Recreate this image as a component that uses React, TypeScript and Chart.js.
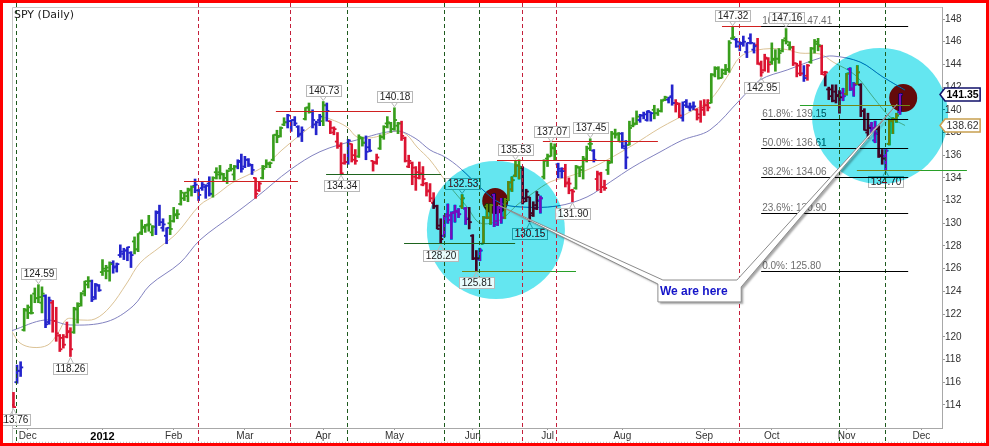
import React, { useEffect, useRef } from 'react';
import { Chart, registerables } from 'chart.js';

Chart.register(...registerables);
Chart.defaults.font.family = '"Liberation Sans", Arial, sans-serif';

// month ticks (trading-day index of first bar of each month)
const monthTicks = [4, 25, 45, 65, 87, 107, 129, 150, 171, 194, 213, 234, 255];
const monthLabels = ['Dec', '2012', 'Feb', 'Mar', 'Apr', 'May', 'Jun', 'Jul', 'Aug', 'Sep', 'Oct', 'Nov', 'Dec'];
const priceTicks = [114, 116, 118, 120, 122, 124, 126, 128, 130, 132, 134, 136, 138, 140, 142, 144, 146, 148];

// daily bars, 25 Nov 2011 .. 23 Nov 2012
const opens = [
  114.0, 116.0, 117.0, 120.6, 122.3, 122.6, 123.8, 123.4, 123.0, 123.6,
  121.3, 123.0, 121.4, 120.1, 119.9, 120.0, 120.5, 120.4, 122.4, 122.9,
  124.0, 124.6, 124.9, 123.5, 124.5, 125.7, 125.8, 125.8, 126.5, 126.2,
  127.2, 127.3, 127.6, 127.4, 128.4, 127.7, 129.2, 129.6, 129.9, 129.2,
  129.7, 131.0, 129.6, 128.9, 130.0, 130.2, 130.8, 131.7, 132.2, 132.4,
  133.0, 133.3, 132.9, 133.1, 133.2, 133.5, 132.6, 134.5, 134.5, 134.3,
  134.0, 134.8, 134.3, 135.0, 135.5, 135.0, 135.6, 135.1, 134.0, 132.9,
  134.0, 135.0, 135.2, 135.6, 137.8, 137.7, 138.7, 138.9, 139.0, 139.1,
  138.5, 137.9, 139.2, 140.2, 139.8, 138.7, 139.1, 139.0, 140.4, 139.0,
  138.0, 137.2, 136.8, 135.3, 135.4, 137.0, 136.0, 135.9, 137.5, 137.1,
  136.7, 135.5, 135.4, 136.6, 137.6, 138.8, 138.8, 138.3, 138.6, 138.8,
  137.5, 135.0, 135.3, 134.1, 134.5, 133.4, 133.5, 132.9, 131.8, 131.5,
  129.8, 128.9, 130.8, 130.3, 131.0, 131.0, 131.5, 131.3, 130.4, 128.9,
  126.9, 126.9, 128.2, 131.5, 130.5, 132.5, 130.2, 131.3, 130.5, 132.1,
  133.0, 134.2, 135.1, 134.9, 132.2, 132.3, 130.9, 131.6, 132.0, 134.1,
  135.7, 135.9, 136.6, 135.2, 134.6, 134.8, 133.6, 132.9, 133.1, 134.9,
  135.0, 135.6, 137.0, 136.4, 133.9, 134.3, 133.2, 134.7, 135.4, 137.9,
  137.9, 137.9, 136.6, 136.9, 138.6, 138.8, 139.1, 139.5, 139.1, 139.8,
  140.0, 139.7, 139.9, 140.9, 140.9, 141.2, 140.6, 140.5, 139.3, 140.7,
  140.2, 140.3, 140.0, 139.6, 140.2, 140.4, 140.6, 143.1, 143.6, 142.8,
  143.5, 143.6, 146.3, 146.2, 145.6, 145.9, 145.1, 146.3, 145.3, 145.7,
  144.0, 143.5, 144.5, 144.2, 144.5, 144.5, 145.2, 146.3, 145.7, 145.5,
  144.1, 143.9, 143.2, 143.0, 144.2, 145.4, 145.8, 145.6, 143.1, 141.8,
  141.8, 141.6, 141.3, 141.5, 141.4, 143.6, 141.8, 142.3, 142.2, 139.9,
  138.0, 138.6, 137.3, 138.3, 135.9, 135.9, 137.0, 139.0, 139.2, 139.8,
];
const highs = [
  115.1, 117.5, 117.8, 122.5, 122.8, 123.7, 124.3, 124.59, 124.4, 123.7,
  123.5, 123.2, 122.6, 120.2, 120.2, 121.3, 120.8, 122.6, 123.0, 123.9,
  124.9, 125.3, 125.0, 124.7, 124.6, 126.8, 126.3, 126.6, 126.7, 126.5,
  128.1, 127.8, 127.9, 127.5, 128.8, 129.1, 130.3, 129.9, 130.7, 129.8,
  131.1, 131.6, 130.4, 129.6, 130.7, 131.4, 131.2, 132.9, 132.7, 133.1,
  133.3, 133.9, 133.0, 133.6, 133.4, 134.1, 134.1, 134.9, 135.1, 134.4,
  134.7, 135.2, 135.1, 135.6, 136.1, 135.9, 135.7, 135.2, 134.0, 133.7,
  135.1, 135.6, 135.4, 137.8, 138.2, 138.5, 139.3, 139.6, 139.1, 139.4,
  138.6, 138.5, 140.2, 140.6, 140.0, 139.0, 139.6, 140.73, 140.6, 139.0,
  138.5, 138.0, 137.1, 136.1, 137.4, 137.0, 136.5, 137.8, 137.6, 137.7,
  137.4, 135.5, 136.1, 137.8, 138.6, 139.4, 138.9, 140.18, 138.9, 139.0,
  137.6, 136.0, 135.4, 135.0, 135.4, 135.0, 133.6, 133.5, 132.7, 131.6,
  130.4, 130.7, 131.7, 131.0, 131.6, 131.3, 132.53, 131.4, 131.4, 129.0,
  127.6, 127.8, 130.6, 131.7, 131.7, 132.6, 131.5, 132.2, 132.2, 133.7,
  134.1, 135.53, 135.6, 135.0, 133.0, 132.3, 131.9, 132.8, 132.4, 135.6,
  136.1, 137.07, 137.0, 135.3, 134.9, 135.2, 134.0, 133.0, 135.1, 135.0,
  135.9, 136.8, 137.45, 136.5, 134.6, 134.5, 133.8, 135.5, 138.1, 138.3,
  138.0, 138.0, 137.3, 139.0, 139.3, 139.9, 139.6, 139.8, 139.9, 139.8,
  140.4, 140.1, 140.9, 141.2, 141.1, 142.2, 140.9, 140.6, 140.7, 140.9,
  140.6, 140.7, 140.1, 140.8, 140.9, 140.9, 143.2, 143.8, 143.8, 143.6,
  144.0, 146.1, 147.32, 146.3, 146.0, 146.5, 145.9, 146.7, 145.9, 146.3,
  144.3, 144.9, 144.6, 145.9, 145.3, 145.4, 146.2, 147.16, 146.0, 145.6,
  144.1, 144.3, 143.9, 144.0, 145.5, 146.2, 146.3, 145.7, 143.4, 142.0,
  142.2, 142.2, 141.7, 141.9, 143.2, 143.7, 142.4, 143.9, 142.3, 140.1,
  139.7, 138.9, 139.0, 138.6, 136.5, 136.5, 139.2, 139.3, 139.7, 141.4,
];
const lows = [
  113.76, 115.9, 116.5, 120.5, 121.6, 122.0, 123.0, 123.0, 122.1, 120.8,
  121.1, 120.4, 119.6, 118.7, 119.0, 119.9, 118.26, 120.3, 121.2, 122.7,
  123.6, 124.3, 123.1, 123.3, 124.0, 125.4, 125.1, 124.9, 125.6, 125.7,
  127.0, 126.8, 126.7, 126.1, 127.3, 127.5, 129.0, 129.2, 129.3, 128.9,
  129.0, 129.8, 129.3, 128.2, 129.0, 130.1, 130.4, 131.6, 132.0, 131.9,
  132.4, 132.7, 132.0, 132.9, 132.2, 132.4, 132.3, 133.9, 133.9, 133.7,
  133.5, 134.6, 133.8, 134.8, 134.5, 134.9, 135.0, 134.3, 132.2, 132.8,
  133.9, 134.9, 134.9, 135.5, 137.1, 137.6, 138.6, 138.4, 138.1, 138.6,
  137.6, 137.2, 139.1, 139.7, 138.4, 137.8, 138.6, 138.6, 139.0, 137.9,
  137.8, 136.6, 134.34, 135.2, 135.2, 135.4, 135.2, 135.8, 136.8, 135.6,
  136.3, 134.6, 135.2, 136.5, 137.4, 138.4, 138.0, 138.2, 137.9, 137.3,
  135.4, 134.9, 133.4, 132.9, 133.9, 133.3, 132.4, 131.9, 131.3, 129.5,
  128.2, 128.8, 130.0, 128.6, 130.1, 130.5, 131.3, 129.9, 129.5, 126.8,
  125.81, 126.7, 128.2, 130.4, 129.9, 129.7, 129.8, 130.0, 130.4, 132.0,
  132.8, 134.1, 133.9, 131.7, 131.9, 130.15, 130.6, 131.2, 130.9, 133.9,
  135.0, 135.9, 135.6, 134.0, 134.0, 133.2, 132.6, 131.9, 133.0, 134.1,
  133.9, 135.4, 136.4, 135.4, 132.9, 132.7, 132.9, 134.3, 135.3, 137.5,
  137.2, 136.6, 134.8, 136.9, 138.5, 138.7, 138.9, 139.2, 139.0, 139.0,
  139.2, 139.5, 139.8, 140.8, 140.6, 140.4, 139.8, 139.3, 139.0, 140.2,
  139.9, 140.0, 139.1, 138.9, 139.5, 139.9, 140.6, 142.9, 142.7, 142.8,
  143.1, 143.3, 146.2, 145.5, 145.2, 145.6, 144.6, 145.8, 145.0, 144.0,
  142.95, 143.4, 143.3, 144.0, 143.4, 144.1, 145.1, 145.8, 145.3, 143.9,
  142.9, 143.0, 142.5, 142.6, 144.1, 145.0, 145.2, 143.1, 142.1, 140.9,
  140.7, 140.6, 139.7, 140.8, 141.3, 141.7, 141.2, 142.2, 139.4, 138.2,
  137.5, 138.0, 137.1, 135.8, 135.2, 134.7, 136.9, 137.9, 138.9, 139.6,
];
const closes = [
  113.8, 117.0, 117.3, 122.4, 122.1, 122.1, 123.4, 123.5, 123.8, 121.1,
  123.2, 121.4, 120.3, 118.9, 119.3, 120.4, 118.9, 122.5, 122.7, 123.8,
  124.9, 124.9, 123.3, 124.6, 124.1, 126.0, 126.1, 126.4, 126.1, 126.4,
  127.5, 127.6, 127.9, 127.2, 127.7, 129.1, 129.7, 129.8, 129.9, 129.7,
  130.9, 130.1, 129.9, 129.6, 129.5, 130.7, 130.8, 132.7, 132.7, 132.9,
  133.2, 133.4, 132.5, 133.4, 133.3, 132.6, 134.0, 134.3, 134.4, 134.0,
  134.6, 134.8, 135.0, 135.4, 134.8, 135.6, 135.2, 134.7, 132.6, 133.5,
  134.8, 135.3, 135.3, 137.8, 137.6, 138.4, 138.9, 139.5, 139.1, 138.8,
  137.8, 138.2, 140.2, 139.8, 139.1, 138.9, 139.4, 140.4, 139.9, 138.4,
  138.3, 136.8, 134.4, 135.4, 137.3, 135.6, 135.5, 137.6, 137.1, 136.3,
  136.4, 135.3, 135.8, 137.6, 138.5, 138.9, 138.3, 139.1, 138.8, 137.7,
  135.5, 135.5, 134.9, 134.0, 134.4, 133.9, 132.8, 132.2, 131.5, 129.5,
  128.6, 130.6, 130.7, 130.9, 131.1, 130.8, 132.2, 130.4, 130.1, 126.9,
  126.9, 127.6, 130.5, 130.5, 131.6, 129.9, 131.4, 130.5, 131.9, 133.6,
  133.8, 135.1, 134.9, 131.9, 132.8, 130.7, 131.3, 132.5, 132.2, 135.5,
  135.9, 136.7, 136.1, 134.8, 134.6, 133.5, 133.5, 132.8, 135.0, 134.7,
  135.7, 136.6, 137.0, 135.6, 134.4, 133.2, 133.1, 135.3, 137.9, 137.8,
  137.2, 136.8, 135.8, 138.4, 138.7, 139.4, 139.5, 139.6, 139.9, 139.7,
  139.7, 139.9, 140.8, 141.1, 141.1, 140.6, 140.6, 139.5, 140.4, 140.3,
  140.2, 140.3, 139.3, 140.0, 140.4, 140.2, 143.1, 143.7, 142.8, 143.2,
  143.5, 145.9, 146.4, 146.0, 145.8, 146.0, 145.9, 145.9, 145.6, 144.1,
  143.3, 144.6, 144.0, 144.4, 144.5, 145.0, 146.1, 146.0, 145.5, 144.1,
  143.2, 143.2, 142.8, 143.9, 145.4, 146.0, 145.7, 143.3, 143.3, 141.2,
  140.8, 141.2, 141.1, 141.2, 143.2, 141.9, 142.2, 143.3, 139.9, 138.2,
  138.4, 138.4, 137.9, 136.0, 135.7, 136.4, 139.1, 139.2, 139.5, 141.35,
];
// impulse colour of each bar: g = green, b = blue, r = red
const impulse =
  'rbbggggggb' + 'brrrrrrggg' + 'ggbbbgggbb' + 'bbbbgggggg' + 'bbbbgggggg' +
  'gbbbbbgggg' + 'gggbbbbbrr' + 'gggggggbbb' + 'bbggbbbgbr' + 'rrrrbrrggb' +
  'brrggggggr' + 'rrrrrrrrrr' + 'rbbbbbgbrr' + 'rbgggbbbgg' + 'gggrrrrrbg' +
  'gggbbrrrgg' + 'gggbrrrggg' + 'gbbgggbbbb' + 'ggggbbrrbb' + 'bbrrrrgggg' +
  'gggbbbbbbr' + 'rrrggggggr' + 'rrbrgggrrr' + 'rrrbgbbgrr' + 'rbbrrbgggb';

// moving averages: [bar index, price]
const fastAverage = [
  [-0.42, 120.45], [1.83, 119.45], [5.48, 119.06], [9.69, 119.28], [12.5, 120.33],
  [15.03, 121.57], [18.68, 121.48], [22.89, 121.57], [27.11, 122.63], [31.88, 124.74],
  [35.53, 126.5], [41.15, 127.91], [45.93, 129.15], [52.39, 131.61], [56.88, 132.5],
  [61.38, 133.55], [66.99, 134.43], [70.93, 135.14], [75.42, 136.46], [83.29, 138.48],
  [86.94, 139.28], [88.9, 139.19], [93.68, 138.48], [96.49, 137.6], [100.14, 137.52],
  [103.79, 137.78], [107.72, 138.13], [110.53, 137.78], [113.34, 136.72], [116.99, 135.58],
  [121.77, 133.55], [127.39, 131.44], [131.04, 130.03], [136.66, 130.29], [141.43, 131.61],
  [145.93, 132.67], [150.7, 133.64], [155.48, 134.08], [161.1, 134.7], [166.71, 135.58],
  [174.02, 136.9], [181.6, 138.4], [189.97, 139.81], [195.6, 140.86], [200.4, 142.89],
  [204.07, 144.65], [208.85, 145.27], [216.15, 145.36], [220.93, 145.0], [226.54, 144.92],
  [230.2, 144.21], [236.38, 143.07], [241.43, 141.13], [246.21, 139.37], [250.42, 138.62],
];
const slowAverage = [
  [-0.42, 120.54], [8.85, 121.48], [15.87, 121.04], [26.26, 121.33], [33.57, 122.7],
  [38.34, 124.56], [46.77, 126.5], [52.39, 128.53], [61.66, 130.73], [68.4, 132.34],
  [77.67, 134.7], [86.1, 136.31], [96.4, 137.34], [107.6, 138.13], [112.8, 137.5],
  [117.0, 136.46], [121.2, 135.84], [125.4, 134.87], [131.9, 132.93], [136.7, 131.79],
  [142.3, 131.44], [152.7, 131.52], [161.1, 132.32], [167.6, 133.64], [174.0, 134.96],
  [181.6, 136.28], [188.0, 137.34], [195.6, 138.22], [204.0, 140.86], [209.7, 142.63],
  [217.3, 143.51], [226.5, 144.56], [230.2, 144.74], [237.8, 144.21], [244.2, 142.89],
  [250.4, 141.74],
];

// Fibonacci retracement of the Jun low .. Sep high
const fibPercents = [100, 61.8, 50, 38.2, 23.6, 0];
const fibPrices = [147.41, 139.15, 136.61, 134.06, 130.9, 125.8];

// cycle lines (bar index)
const redCycles = [51.8, 77.8, 142.7, 152.5, 203.8];
const greenCycles = [0.7, 93.7, 120.9, 130.8, 231.9, 244.8];

// support / resistance segments
const levels = [
  { from: 47.9, to: 79.9, price: 133.73, colour: '#d02020', under: false },
  { from: 73.7, to: 106.0, price: 139.9, colour: '#d02020', under: false },
  { from: 87.8, to: 120.1, price: 134.32, colour: '#1e641e', under: false },
  { from: 109.7, to: 140.9, price: 128.22, colour: '#1e641e', under: false },
  { from: 126.0, to: 158.0, price: 125.79, colour: '#28a028', under: true },
  { from: 135.8, to: 167.6, price: 135.6, colour: '#d02020', under: false },
  { from: 148.7, to: 181.0, price: 137.25, colour: '#d02020', under: false },
  { from: 199.0, to: 220.9, price: 147.38, colour: '#d02020', under: false },
  { from: 220.9, to: 251.8, price: 140.4, colour: '#28a028', under: true },
  { from: 236.9, to: 267.8, price: 134.67, colour: '#28a028', under: true },
];

// swing highs / lows that carry a price label
const swingLabels = [
  { bar: 0, side: 'low', under: false }, { bar: 7, side: 'high', under: false },
  { bar: 16, side: 'low', under: false }, { bar: 87, side: 'high', under: false },
  { bar: 92, side: 'low', under: false }, { bar: 107, side: 'high', under: false },
  { bar: 126, side: 'high', under: true }, { bar: 120, side: 'low', under: false },
  { bar: 130, side: 'low', under: false }, { bar: 141, side: 'high', under: false },
  { bar: 145, side: 'low', under: true }, { bar: 151, side: 'high', under: false },
  { bar: 162, side: 'high', under: false }, { bar: 157, side: 'low', under: false },
  { bar: 202, side: 'high', under: false }, { bar: 217, side: 'high', under: false },
  { bar: 210, side: 'low', under: false }, { bar: 245, side: 'low', under: true },
];

const zones = [{ bar: 135.5, price: 129.41, r: 69 }, { bar: 243.4, price: 139.45, r: 68 }];
const dots = [{ bar: 135.3, price: 131.96, r: 13 }, { bar: 249.9, price: 141.04, r: 14 }];
const callout = {
  text: 'We are here',
  tipA: [136.1, 131.61], tipB: [248.2, 140.51],
  left: 181.0, right: 204.4, top: 125.0, bottom: 123.07,
  joinA: [182.4, 124.65], joinB: [203.2, 124.39],
};

const palette: any = { g: '#389e1c', b: '#2424cc', r: '#dc1432' };
const barColours = impulse.split('').map((c) => palette[c]);

function drawLabel(ctx: any, text: string, cx: number, py: number, above: boolean) {
  ctx.font = '10px "Liberation Sans", Arial, sans-serif';
  const w = Math.round(ctx.measureText(text).width + 4);
  const h = 11;
  const top = Math.round(above ? py - 6 - h : py + 6);
  const left = Math.round(cx - w / 2);
  ctx.fillStyle = 'rgba(255,255,255,0.85)';
  ctx.fillRect(left, top, w, h);
  ctx.strokeStyle = '#b8b8b8';
  ctx.lineWidth = 1;
  ctx.strokeRect(left + 0.5, top + 0.5, w, h);
  const edge = above ? top + h + 0.5 : top + 0.5;
  ctx.beginPath();
  ctx.moveTo(cx - 3, edge);
  ctx.lineTo(cx, above ? py - 1 : py + 1);
  ctx.lineTo(cx + 3, edge);
  ctx.stroke();
  ctx.fillStyle = '#222';
  ctx.textAlign = 'center';
  ctx.textBaseline = 'middle';
  ctx.fillText(text, left + w / 2 + 0.5, top + h / 2 + 1);
}

function hline(ctx: any, x1: number, x2: number, y: number, colour: string) {
  ctx.beginPath();
  ctx.moveTo(x1, Math.round(y) + 0.5);
  ctx.lineTo(x2, Math.round(y) + 0.5);
  ctx.strokeStyle = colour;
  ctx.lineWidth = 1;
  ctx.stroke();
}

const overlay = {
  id: 'overlay',
  beforeDraw(chart: any) {
    const { ctx, width, height } = chart;
    ctx.save();
    ctx.fillStyle = '#ffffff';
    ctx.fillRect(0, 0, width, height);
    ctx.restore();
  },
  beforeDatasetsDraw(chart: any) {
    const { ctx, chartArea } = chart;
    const X = (i: number) => chart.scales.x.getPixelForValue(i);
    const Y = (v: number) => chart.scales.y.getPixelForValue(v);
    ctx.save();
    ctx.strokeStyle = '#c8c8c8';
    ctx.lineWidth = 1;
    ctx.beginPath();
    ctx.moveTo(chartArea.left + 0.5, 443);
    ctx.lineTo(chartArea.left + 0.5, chartArea.top + 0.5);
    ctx.lineTo(chartArea.right, chartArea.top + 0.5);
    ctx.stroke();
    // red dots; the difference circle drawn later turns them dark
    ctx.fillStyle = 'rgb(255,35,25)';
    dots.forEach((d) => {
      ctx.beginPath();
      ctx.arc(X(d.bar), Y(d.price), d.r, 0, Math.PI * 2);
      ctx.fill();
    });
    ctx.restore();
  },
  afterDatasetsDraw(chart: any) {
    const { ctx } = chart;
    const X = (i: number) => chart.scales.x.getPixelForValue(i);
    const Y = (v: number) => chart.scales.y.getPixelForValue(v);
    const fibFrom = 210, fibTo = 251.3;
    ctx.save();

    // things that sit below the highlight circles
    levels.filter((l) => l.under).forEach((l) => hline(ctx, X(l.from), X(l.to), Y(l.price), l.colour));
    ctx.font = '10px "Liberation Sans", Arial, sans-serif';
    ctx.fillStyle = '#6e6e6e';
    ctx.textAlign = 'left';
    ctx.textBaseline = 'alphabetic';
    fibPercents.forEach((p, k) => {
      ctx.fillText(p.toFixed(1) + '%: ' + fibPrices[k].toFixed(2), X(fibFrom) + 1, Y(fibPrices[k]) - 2);
    });
    swingLabels.filter((s) => s.under).forEach((s) => {
      const v = s.side === 'high' ? highs[s.bar] : lows[s.bar];
      drawLabel(ctx, v.toFixed(2), X(s.bar), Y(v), s.side === 'high');
    });

    // highlight circles
    ctx.globalCompositeOperation = 'difference';
    ctx.fillStyle = 'rgb(155,25,15)';
    zones.forEach((z) => {
      ctx.beginPath();
      ctx.arc(X(z.bar), Y(z.price), z.r, 0, Math.PI * 2);
      ctx.fill();
    });
    ctx.globalCompositeOperation = 'source-over';

    // cycle lines
    ctx.lineWidth = 1;
    ctx.setLineDash([4, 3]);
    const cycle = (list: number[], colour: string) => list.forEach((i) => {
      const x = Math.round(X(i)) + 0.5;
      ctx.beginPath();
      ctx.moveTo(x, 3);
      ctx.lineTo(x, 443);
      ctx.strokeStyle = colour;
      ctx.stroke();
    });
    cycle(redCycles, '#c41e3a');
    cycle(greenCycles, '#1e5a1e');
    ctx.setLineDash([]);

    levels.filter((l) => !l.under).forEach((l) => hline(ctx, X(l.from), X(l.to), Y(l.price), l.colour));
    fibPrices.forEach((v) => hline(ctx, X(fibFrom), X(fibTo), Y(v), '#000000'));

    swingLabels.filter((s) => !s.under).forEach((s) => {
      const v = s.side === 'high' ? highs[s.bar] : lows[s.bar];
      drawLabel(ctx, v.toFixed(2), X(s.bar), Y(v), s.side === 'high');
    });

    // callout
    const c = callout;
    const L = X(c.left), R = X(c.right), T = Y(c.top), B = Y(c.bottom);
    ctx.beginPath();
    ctx.moveTo(X(c.tipA[0]), Y(c.tipA[1]));
    ctx.lineTo(X(c.joinA[0]), T);
    ctx.lineTo(X(c.joinB[0]), T);
    ctx.lineTo(X(c.tipB[0]), Y(c.tipB[1]));
    ctx.lineTo(R, Y(c.joinB[1]));
    ctx.lineTo(R, B);
    ctx.lineTo(L, B);
    ctx.lineTo(L, Y(c.joinA[1]));
    ctx.closePath();
    ctx.shadowColor = 'rgba(0,0,0,0.35)';
    ctx.shadowOffsetX = 2;
    ctx.shadowOffsetY = 2;
    ctx.shadowBlur = 2;
    ctx.fillStyle = '#ffffff';
    ctx.fill();
    ctx.shadowColor = 'transparent';
    ctx.strokeStyle = '#8c8c8c';
    ctx.lineWidth = 1;
    ctx.stroke();
    ctx.font = 'bold 12px "Liberation Sans", Arial, sans-serif';
    ctx.fillStyle = '#1414c8';
    ctx.textAlign = 'left';
    ctx.textBaseline = 'middle';
    ctx.fillText(c.text, L + 2, (T + B) / 2 + 1);

    // last-value tags on the price axis
    const tag = (v: number, border: string, font: string, colour: string) => {
      const y = Y(v);
      ctx.font = font;
      const w = ctx.measureText(v.toFixed(2)).width;
      const x0 = 940, x1 = 945, x2 = 945 + w + 3;
      ctx.beginPath();
      ctx.moveTo(x0, y);
      ctx.lineTo(x1, y - 6.5);
      ctx.lineTo(x2, y - 6.5);
      ctx.lineTo(x2, y + 6.5);
      ctx.lineTo(x1, y + 6.5);
      ctx.closePath();
      ctx.fillStyle = '#ffffff';
      ctx.fill();
      ctx.strokeStyle = border;
      ctx.lineWidth = 1.5;
      ctx.stroke();
      ctx.fillStyle = colour;
      ctx.textAlign = 'left';
      ctx.textBaseline = 'middle';
      ctx.fillText(v.toFixed(2), x1 + 1.5, y + 1);
    };
    tag(fastAverage[fastAverage.length - 1][1], '#c8a050', '10.5px "Liberation Sans", Arial, sans-serif', '#333');
    tag(closes[closes.length - 1], '#10106a', 'bold 10.5px "Liberation Sans", Arial, sans-serif', '#000');

    ctx.font = '11px "DejaVu Sans", sans-serif';
    ctx.fillStyle = '#222';
    ctx.textAlign = 'left';
    ctx.textBaseline = 'middle';
    ctx.fillText('SPY (Daily)', 14, 15);

    ctx.strokeStyle = '#c0c0c0';
    ctx.setLineDash([1, 2]);
    ctx.beginPath();
    ctx.moveTo(12, 442.5);
    ctx.lineTo(986, 442.5);
    ctx.stroke();
    ctx.restore();
  },
  afterDraw(chart: any) {
    const { ctx, width, height } = chart;
    ctx.save();
    ctx.strokeStyle = '#ff0000';
    ctx.lineWidth = 3;
    ctx.strokeRect(1.5, 1.5, width - 3, height - 3);
    ctx.restore();
  },
};

export default function App() {
  const canvasRef = useRef<HTMLCanvasElement>(null);

  useEffect(() => {
    document.body.style.margin = '0';
    const canvas = canvasRef.current;
    if (!canvas) return;
    const idx = closes.map((_, i) => i);
    const chart = new Chart(canvas, {
      type: 'scatter',
      data: {
        datasets: [
          {
            type: 'line',
            data: fastAverage.map(([x, y]) => ({ x, y })),
            borderColor: '#dcc396',
            borderWidth: 1,
            pointRadius: 0,
            tension: 0.35,
            order: 6,
          } as any,
          {
            type: 'line',
            data: slowAverage.map(([x, y]) => ({ x, y })),
            borderColor: '#8282c0',
            borderWidth: 1,
            pointRadius: 0,
            tension: 0.35,
            order: 5,
          },
          {
            type: 'bar',
            data: idx.map((i) => ({ x: i, y: [lows[i], highs[i]] })),
            backgroundColor: barColours,
            borderWidth: 0,
            barThickness: 2,
            order: 3,
          },
          {
            type: 'scatter',
            data: idx.map((i) => ({ x: i, y: opens[i] })),
            pointStyle: 'dash',
            pointRotation: 180,
            pointRadius: 2.6,
            pointBorderWidth: 1.8,
            pointBorderColor: barColours,
            pointBackgroundColor: barColours,
            order: 2,
          },
          {
            type: 'scatter',
            data: idx.map((i) => ({ x: i, y: closes[i] })),
            pointStyle: 'dash',
            pointRotation: 0,
            pointRadius: 2.6,
            pointBorderWidth: 1.8,
            pointBorderColor: barColours,
            pointBackgroundColor: barColours,
            order: 1,
          },
        ],
      },
      options: {
        animation: false,
        responsive: false,
        events: [],
        layout: { padding: { left: 12, top: 7, right: 0, bottom: 0 } },
        plugins: { legend: { display: false }, tooltip: { enabled: false } },
        scales: {
          x: {
            type: 'linear',
            min: -0.42,
            max: 260.8,
            offset: false,
            afterFit: (s: any) => { s.height = 18; },
            afterBuildTicks: (s: any) => { s.ticks = monthTicks.map((value) => ({ value })); },
            ticks: {
              autoSkip: false,
              maxRotation: 0,
              padding: 0,
              callback: (_v: any, i: number) => monthLabels[i],
              color: (c: any) => (c.index === 1 ? '#000' : '#333'),
              font: (c: any) => (c.index === 1
                ? { family: '"Liberation Sans", Arial, sans-serif', size: 11, weight: 'bold' }
                : { family: '"Liberation Sans", Arial, sans-serif', size: 10 }),
            },
            grid: { drawOnChartArea: false, tickLength: 2, color: '#999', offset: false },
            border: { color: '#a8a8a8', dash: [1, 2] },
          },
          y: {
            position: 'right',
            min: 111.96,
            max: 149.06,
            afterFit: (s: any) => { s.width = 47; },
            afterBuildTicks: (s: any) => { s.ticks = priceTicks.map((value) => ({ value })); },
            ticks: {
              padding: 0,
              color: '#333',
              font: { size: 10 },
              callback: (v: any) => String(v),
            },
            grid: { drawOnChartArea: false, tickLength: 3, color: '#999' },
            border: { color: '#a8a8a8' },
          },
        },
      } as any,
      plugins: [overlay],
    });
    return () => {
      chart.destroy();
    };
  }, []);

  return (
    <div style={{ width: 989, height: 446 }}>
      <canvas ref={canvasRef} width={989} height={446} />
    </div>
  );
}
